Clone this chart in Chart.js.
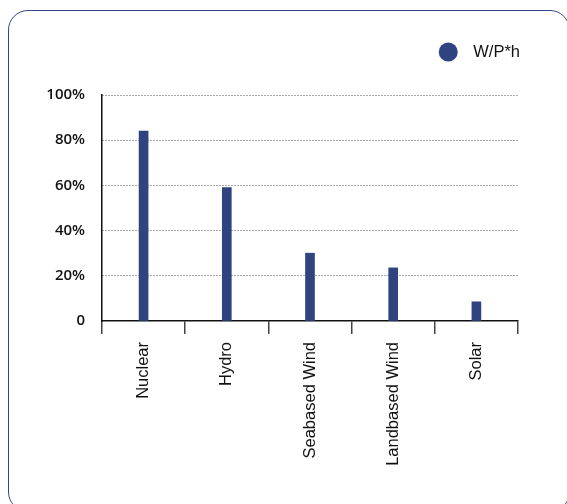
<!DOCTYPE html>
<html>
<head>
<meta charset="utf-8">
<script src="https://cdn.jsdelivr.net/npm/chart.js@4/dist/chart.umd.min.js"></script>
<style>
    html, body { margin: 0; padding: 0; background: #fff; overflow: hidden; }
    #wrap { position: relative; width: 567px; height: 504px; overflow: hidden; }
    #frame {
        position: absolute; left: 8px; top: 10px; width: 562px; height: 502px;
        border: 1.5px solid #34468a; border-radius: 20px; box-sizing: border-box;
    }
    #myChart { position: absolute; left: 0; top: 0; }
</style>
</head>
<body>
<div id="wrap">
    <div id="frame"></div>
    <canvas id="myChart" width="567" height="504"></canvas>
</div>
<script>
const categories = [ 'Nuclear', 'Hydro', 'Seabased Wind', 'Landbased Wind', 'Solar' ];
const seriesLabel = 'W/P*h';
const values = [ 84, 59, 30, 23.5, 8.5 ];
const yTicks = [ 0, 20, 40, 60, 80, 100 ];

const barColor = '#2e4380';

// legend drawn by hand: dot + label, right aligned with the plot area
const dotLegend = {
    id: 'dotLegend',
    afterDraw( chart ) {
        const ctx = chart.ctx;
        const ds = chart.data.datasets[0];
        const right = chart.chartArea.right + 2;
        const y = 52;
        ctx.save();
        ctx.font = '16.5px "Liberation Sans", Arial, sans-serif';
        ctx.textBaseline = 'middle';
        ctx.textAlign = 'right';
        ctx.fillStyle = '#111';
        const w = ctx.measureText( ds.label ).width;
        ctx.fillText( ds.label, right, y );
        ctx.beginPath();
        ctx.arc( right - w - 25, y, 9.5, 0, Math.PI * 2 );
        ctx.fillStyle = ds.backgroundColor;
        ctx.fill();
        ctx.restore();
    }
};

new Chart( document.getElementById('myChart'), {
    type: 'bar',
    data: {
        labels: categories,
        datasets: [{
            label: seriesLabel,
            data: values,
            backgroundColor: barColor,
            barThickness: 9
        }]
    },
    options: {
        responsive: false,
        animation: false,
        layout: { padding: { top: 95, right: 49, left: 0, bottom: 0 } },
        plugins: {
            legend: { display: false },
            tooltip: { enabled: false }
        },
        scales: {
            x: {
                afterFit: scale => { scale.height = 183; },
                grid: {
                    offset: true,
                    drawOnChartArea: false,
                    drawTicks: true,
                    tickLength: 13,
                    color: '#444',
                    lineWidth: 1.5
                },
                border: { color: '#111', width: 1.5 },
                ticks: {
                    minRotation: 90,
                    maxRotation: 90,
                    padding: 8,
                    color: '#111',
                    font: { family: '"Liberation Sans", Arial, sans-serif', size: 16.5 }
                }
            },
            y: {
                min: 0,
                max: 100,
                afterFit: scale => { scale.width = 102; },
                afterBuildTicks: scale => {
                    scale.ticks = yTicks.map( v => ({ value: v }) );
                },
                grid: {
                    drawTicks: false,
                    color: ctx => ctx.tick && ctx.tick.value === 0 ? 'rgba(0,0,0,0)' : '#555',
                    lineWidth: 1
                },
                border: { color: '#111', width: 1.5, dash: [ 1, 2 ] },
                ticks: {
                    padding: 17,
                    color: '#111',
                    font: { family: '"Open Sans", sans-serif', size: 15, weight: '600' },
                    callback: v => v === 0 ? '0' : v + '%'
                }
            }
        }
    },
    plugins: [ dotLegend ]
});
</script>
</body>
</html>
